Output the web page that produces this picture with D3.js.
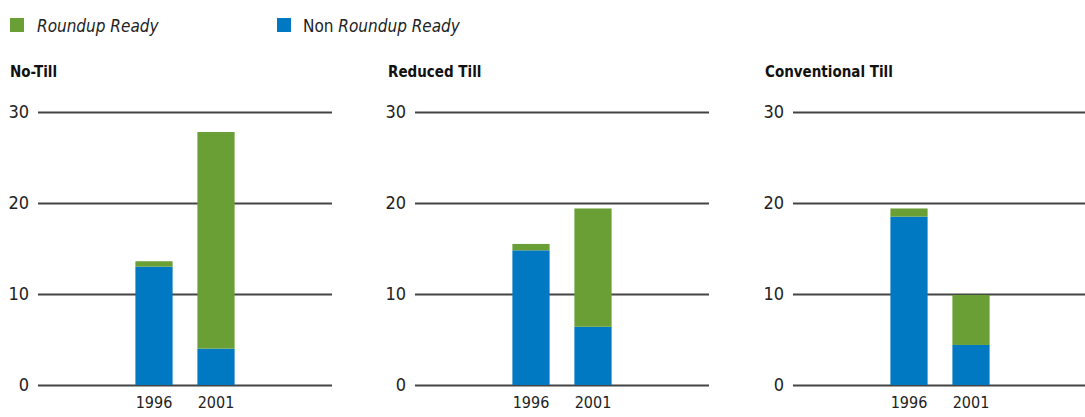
<!DOCTYPE html>
<html>
<head>
<meta charset="utf-8">
<script src="https://cdn.jsdelivr.net/npm/d3@7"></script>
<style>
  body { margin: 0; background: #fff; }
  svg text { font-family: "DejaVu Sans", sans-serif; font-stretch: condensed; }
</style>
</head>
<body>
<div id="chart"></div>
<script>
// data
var panels = ["No-Till", "Reduced Till", "Conventional Till"];
var years = ["1996", "2001"];
var nonRoundup = [[13.0, 4.0], [14.8, 6.4], [18.5, 4.4]];
var roundup = [[0.6, 23.8], [0.7, 13.0], [0.9, 5.5]];
var yTicks = [0, 10, 20, 30];

var svgWidth = 1085;
var svgHeight = 417;

var green = "#6a9f35";
var blue = "#0079c2";
var fontStack = "'DejaVu Sans', sans-serif";

var svg = d3.select("#chart")
  .append("svg")
  .attr("width", svgWidth)
  .attr("height", svgHeight);

// legend
var legend = svg.append("g");
legend.append("rect").attr("x", 10).attr("y", 18).attr("width", 14).attr("height", 14).attr("fill", green);
legend.append("text").attr("x", 37).attr("y", 32)
  .attr("font-size", 17).attr("font-style", "italic").attr("fill", "#222")
  .text("Roundup Ready");
legend.append("rect").attr("x", 277).attr("y", 18).attr("width", 14).attr("height", 14).attr("fill", blue);
var nonLabel = legend.append("text").attr("x", 303).attr("y", 32)
  .attr("font-size", 17).attr("fill", "#222");
nonLabel.append("tspan").text("Non ");
nonLabel.append("tspan").attr("font-style", "italic").text("Roundup Ready");

// panel geometry
var panelLeft = [38, 415, 793];
var panelWidth = 294;
var titleX = [10, 388, 765];

var y = d3.scaleLinear().domain([0, 30]).range([385, 112]);

var stack = d3.stack().keys(["non", "rr"]);

panels.forEach(function(name, i) {
  var g = svg.append("g").attr("transform", `translate(${panelLeft[i]}, 0)`);
  var gridWidth = i === panels.length - 1 ? svgWidth - panelLeft[i] : panelWidth;

  svg.append("text")
    .attr("x", titleX[i]).attr("y", 77)
    .attr("font-size", 15).attr("font-weight", "bold").attr("fill", "#111")
    .text(name);

  var axis = g.append("g")
    .call(d3.axisLeft(y).tickValues(yTicks).tickSize(-gridWidth).tickPadding(9).tickFormat(d3.format("d")));
  axis.select(".domain").remove();
  axis.selectAll("line").attr("stroke", "#444").attr("stroke-width", 1.8);
  axis.selectAll("text")
    .attr("font-size", 18).attr("fill", "#222")
    .style("font-family", fontStack).style("font-stretch", "condensed");

  var x = d3.scaleBand()
    .domain(years)
    .range([panelWidth / 2 - 49.6, panelWidth / 2 + 49.6])
    .paddingInner(0.4)
    .paddingOuter(0);

  var rows = years.map(function(yr, j) {
    return { year: yr, non: nonRoundup[i][j], rr: roundup[i][j] };
  });
  var series = stack(rows);

  g.selectAll(".series")
    .data(series)
    .enter()
    .append("g")
    .attr("fill", function(d) { return d.key === "non" ? blue : green; })
    .selectAll("rect")
    .data(function(d) { return d; })
    .enter()
    .append("rect")
    .attr("x", function(d) { return x(d.data.year); })
    .attr("width", x.bandwidth())
    .attr("y", function(d) { return y(d[1]); })
    .attr("height", function(d) { return y(d[0]) - y(d[1]); });

  var xAxis = g.append("g")
    .attr("transform", `translate(0, ${y(0)})`)
    .call(d3.axisBottom(x).tickSize(0).tickPadding(12));
  xAxis.select(".domain").remove();
  xAxis.selectAll("text")
    .attr("font-size", 16).attr("fill", "#222")
    .style("font-family", fontStack).style("font-stretch", "condensed");
});
</script>
</body>
</html>
